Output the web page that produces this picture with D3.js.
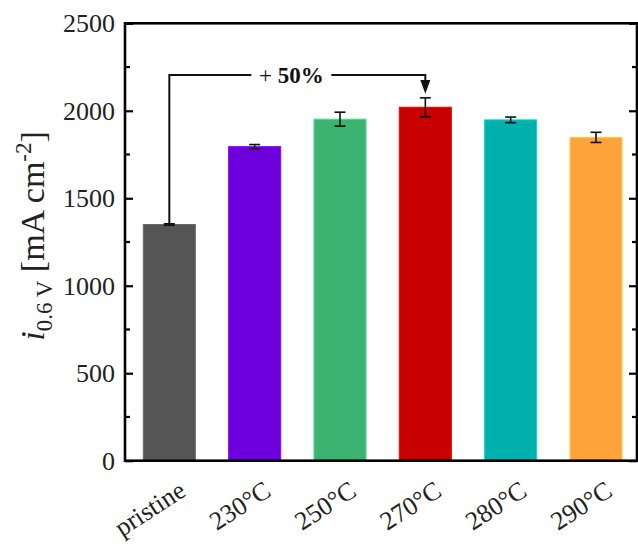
<!DOCTYPE html>
<html>
<head>
<meta charset="utf-8">
<script src="https://cdn.jsdelivr.net/npm/d3@7/dist/d3.min.js"></script>
<style>
  body { margin: 0; background: #fff; }
  svg { display: block; font-family: "Liberation Serif", "Times New Roman", serif; }
</style>
</head>
<body>
<svg id="chart" width="638" height="544"></svg>
<script>
// Current density at 0.6 V for the pristine sample and each annealing temperature
const categories = ["pristine", "230°C", "250°C", "270°C", "280°C", "290°C"];
const values = [1350, 1795, 1952, 2020, 1948, 1848];
const errors = [4, 12, 40, 54, 16, 29];
const colors = ["#555555", "#6f00de", "#3cb371", "#c80000", "#00b0ad", "#ffa33b"];
const yTicks = [0, 500, 1000, 1500, 2000, 2500];
const yMinorTicks = [250, 750, 1250, 1750, 2250];
const annotationText = ["+ ", "50%"];

const svg = d3.select("#chart");
const plot = { left: 125, right: 637, top: 23.3, bottom: 460.7 };

const x = d3.scaleBand()
  .domain(categories)
  .range([plot.left, plot.right])
  .paddingInner(0.39)
  .paddingOuter(0.195)
  .align(0.55);

const y = d3.scaleLinear()
  .domain([0, 2500])
  .range([plot.bottom, plot.top]);

const data = categories.map((c, i) => ({ c, v: values[i], e: errors[i], color: colors[i] }));

// bars
svg.append("g").selectAll("rect")
  .data(data)
  .join("rect")
  .attr("x", d => x(d.c))
  .attr("width", x.bandwidth())
  .attr("y", d => y(d.v))
  .attr("height", d => y(0) - y(d.v))
  .attr("fill", d => d.color)
  .attr("stroke", d => d3.color(d.color).brighter(0.6))
  .attr("stroke-width", 1);

// error bars
const eb = svg.append("g").attr("stroke", "#111").attr("stroke-width", 1.6).attr("fill", "none");
const capHalf = 5.5;
data.forEach(d => {
  const cx = x(d.c) + x.bandwidth() / 2;
  eb.append("line").attr("x1", cx).attr("x2", cx).attr("y1", y(d.v + d.e)).attr("y2", y(d.v - d.e));
  eb.append("line").attr("x1", cx - capHalf).attr("x2", cx + capHalf).attr("y1", y(d.v + d.e)).attr("y2", y(d.v + d.e));
  eb.append("line").attr("x1", cx - capHalf).attr("x2", cx + capHalf).attr("y1", y(d.v - d.e)).attr("y2", y(d.v - d.e));
});

// y axes: left ticks point inward, mirrored on the right edge
const leftAxis = d3.axisLeft(y).tickValues(yTicks).tickSize(-8).tickPadding(10).tickFormat(d3.format("d"));
const gl = svg.append("g").attr("transform", `translate(${plot.left},0)`).call(leftAxis);
gl.select(".domain").remove();
gl.selectAll(".tick line").attr("stroke", "#000").attr("stroke-width", 2.2);
gl.selectAll(".tick text").attr("font-size", 26).attr("fill", "#222").attr("font-family", "Liberation Serif");

const gr = svg.append("g").attr("transform", `translate(${plot.right},0)`)
  .call(d3.axisRight(y).tickValues(yTicks).tickSize(-8).tickFormat(""));
gr.select(".domain").remove();
gr.selectAll(".tick line").attr("stroke", "#000").attr("stroke-width", 2.2);

[[plot.left, 5], [plot.right, -5]].forEach(([px, len]) => {
  svg.append("g").selectAll("line").data(yMinorTicks).join("line")
    .attr("x1", px).attr("x2", px + len)
    .attr("y1", d => y(d)).attr("y2", d => y(d))
    .attr("stroke", "#000").attr("stroke-width", 2.2);
});

// frame
svg.append("rect")
  .attr("x", plot.left).attr("y", plot.top)
  .attr("width", plot.right - plot.left).attr("height", plot.bottom - plot.top)
  .attr("fill", "none").attr("stroke", "#000").attr("stroke-width", 2.6);

// x category labels, rotated
svg.append("g").selectAll("text")
  .data(categories)
  .join("text")
  .attr("transform", d => `translate(${x(d) + x.bandwidth() / 2 + 18},${plot.bottom + 34}) rotate(-33)`)
  .attr("text-anchor", "end")
  .attr("font-size", 26)
  .attr("fill", "#222")
  .text(d => d);

// y axis title
const yt = svg.append("text")
  .attr("transform", `translate(44,236) rotate(-90)`)
  .attr("text-anchor", "middle")
  .attr("font-size", 34)
  .attr("fill", "#222");
yt.append("tspan").attr("font-style", "italic").text("i");
yt.append("tspan").attr("font-size", 23).attr("dy", 8).text("0.6 V");
yt.append("tspan").attr("dy", -8).text(" [mA cm");
yt.append("tspan").attr("font-size", 23).attr("dy", -13).text("-2");
yt.append("tspan").attr("dy", 13).text("]");

// improvement annotation from pristine to the 270°C bar
const x0 = x(categories[0]) + x.bandwidth() / 2;
const x3 = x(categories[3]) + x.bandwidth() / 2;
const ann = svg.append("g");
const annY = 75;
ann.append("path")
  .attr("d", `M${x0},${y(values[0])} V${annY} H${x3} V${annY + 6}`)
  .attr("fill", "none").attr("stroke", "#111").attr("stroke-width", 2);
ann.append("path")
  .attr("d", `M${x3 - 5},${annY + 5} L${x3 + 5},${annY + 5} L${x3},${y(values[3] + errors[3]) - 4} Z`)
  .attr("fill", "#111");
const labelX = (x0 + x3) / 2 - 6;
ann.append("rect").attr("x", labelX - 40).attr("y", annY - 10).attr("width", 80).attr("height", 20).attr("fill", "#fff");
const at = ann.append("text")
  .attr("x", labelX).attr("y", annY + 8)
  .attr("text-anchor", "middle")
  .attr("font-size", 23)
  .attr("fill", "#111");
at.append("tspan").text(annotationText[0]);
at.append("tspan").attr("font-weight", "bold").text(annotationText[1]);
</script>
</body>
</html>
